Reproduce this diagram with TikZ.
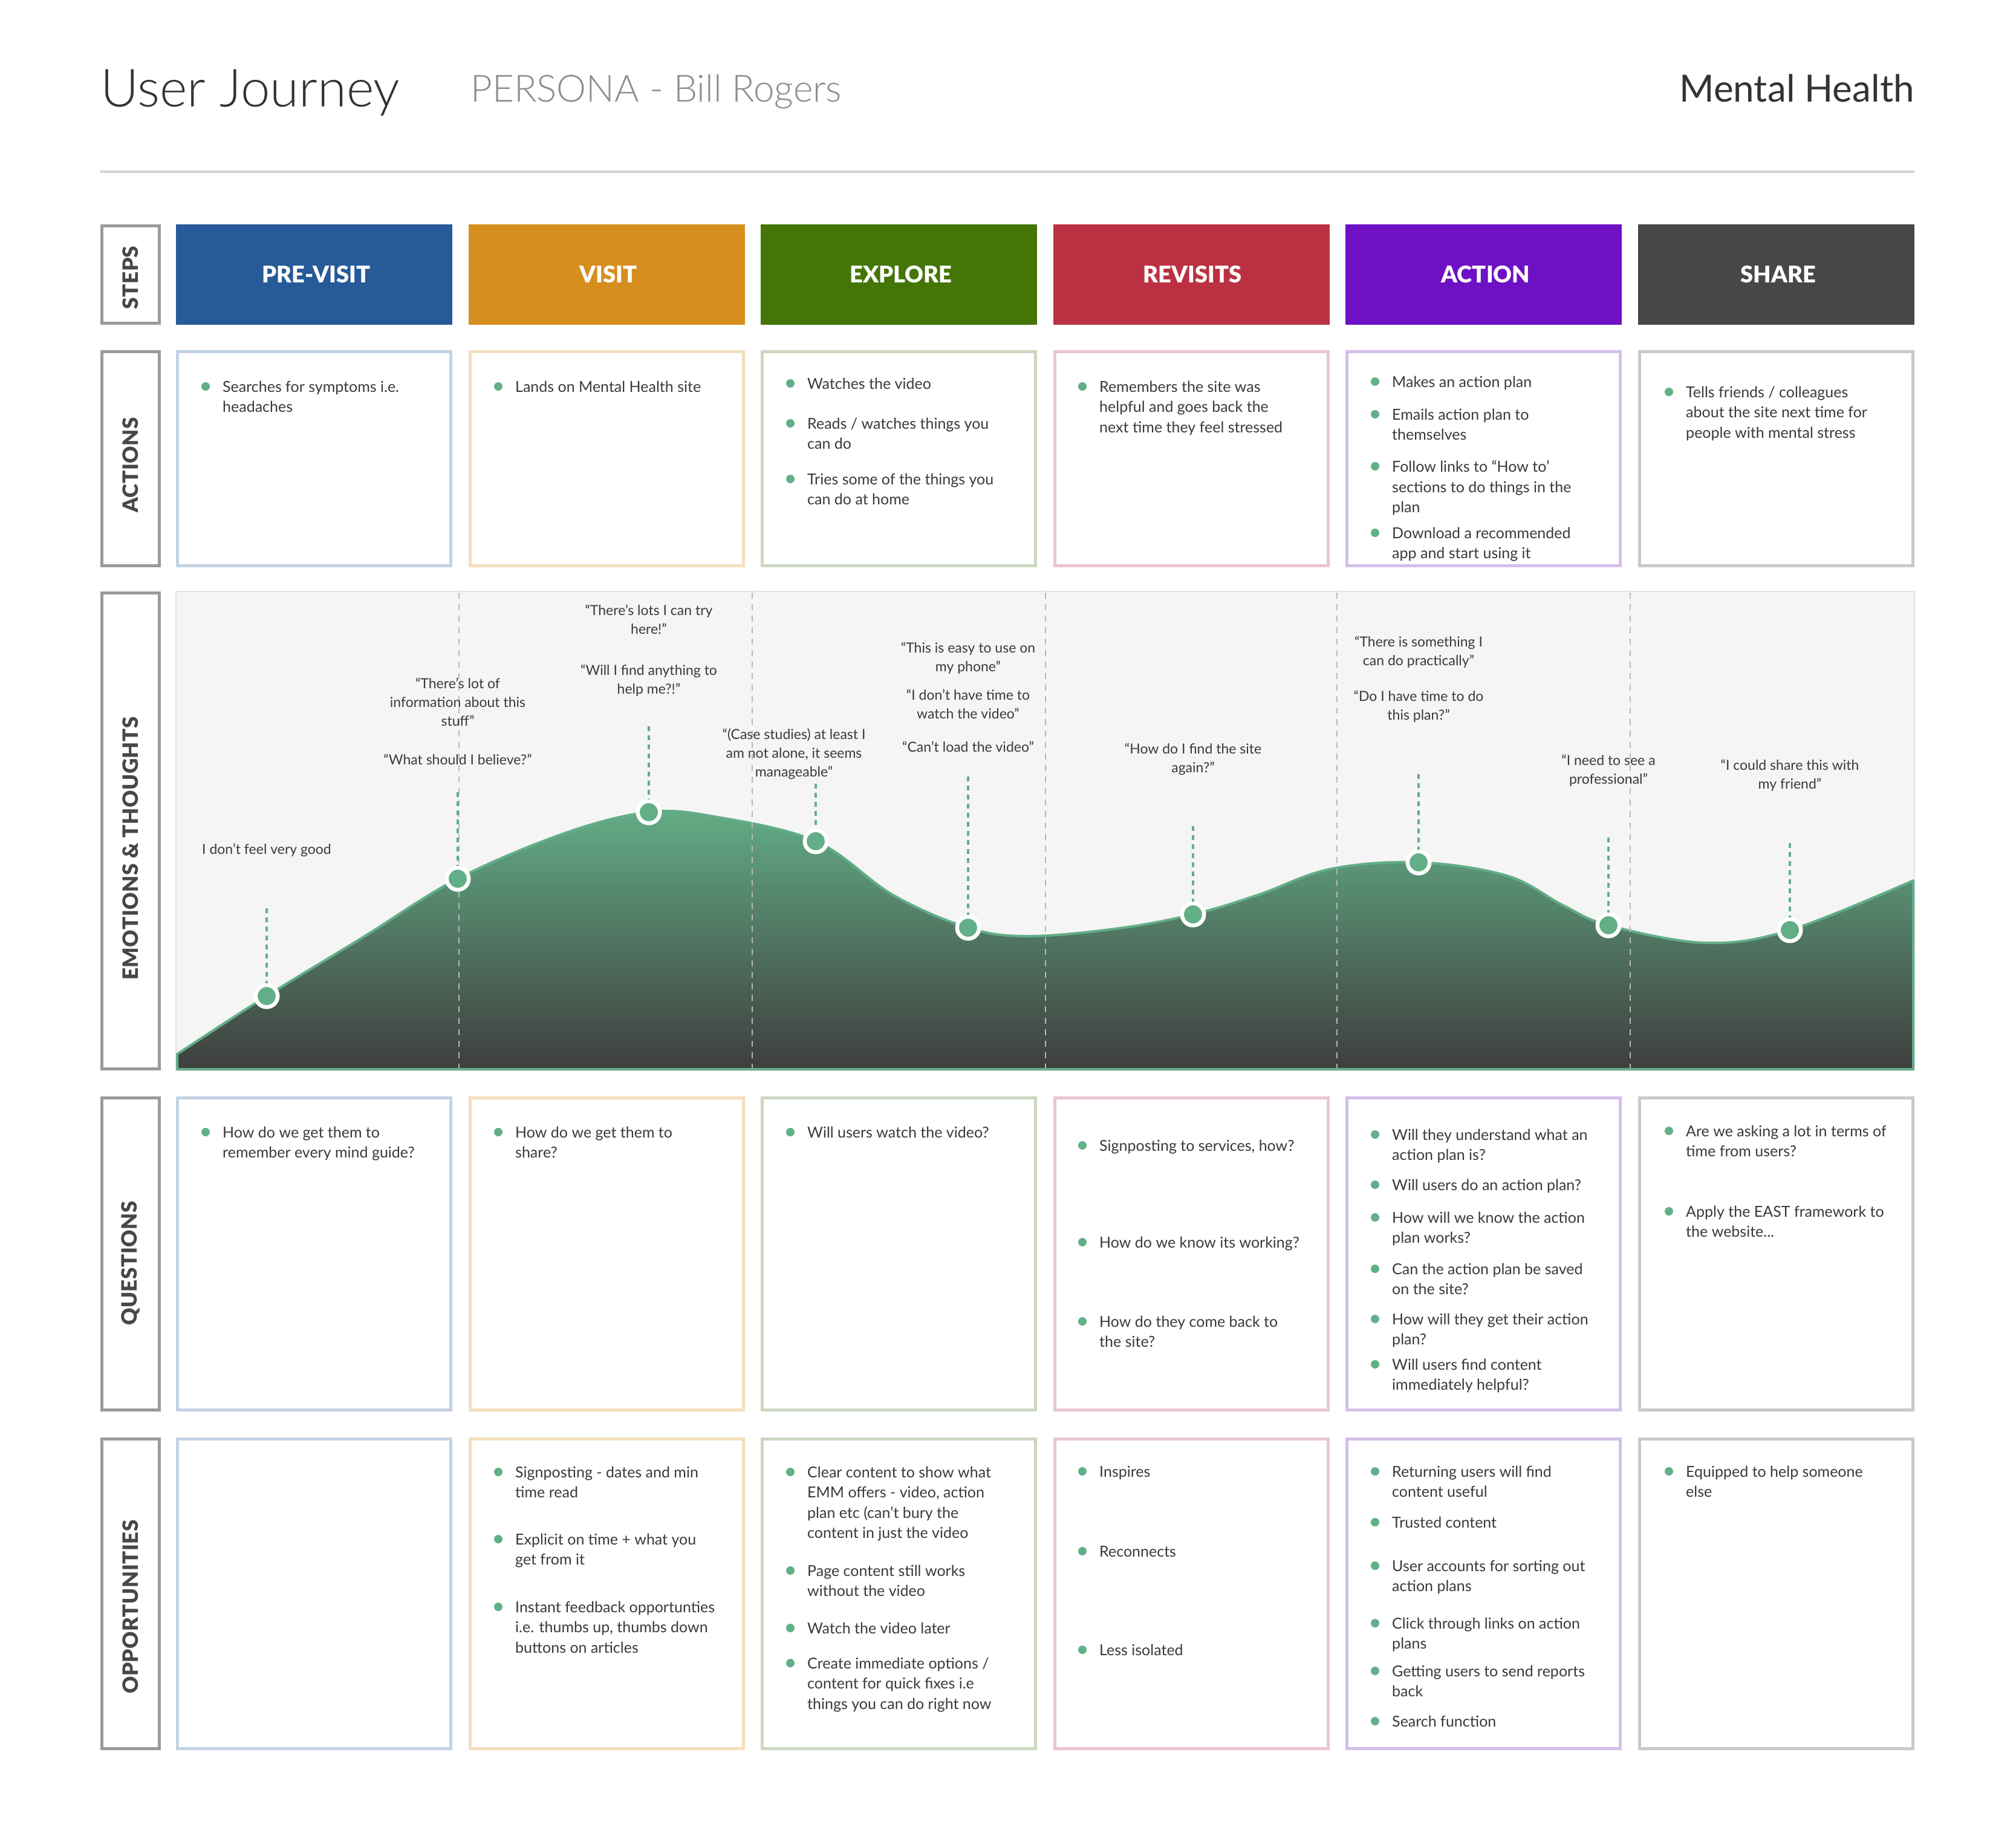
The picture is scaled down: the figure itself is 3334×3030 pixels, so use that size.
\documentclass[tikz,border=0pt]{standalone}
\usepackage{fontspec}
\setmainfont{Lato}
\newfontfamily\lightfont{Lato Light}
\newfontfamily\blackfont{Lato Black}
\newfontfamily\labfont{Lato Black}[LetterSpace=1.5]
\definecolor{ink}{HTML}{3A3A3A}
\definecolor{titlec}{HTML}{333333}
\definecolor{persc}{HTML}{8C8C8C}
\definecolor{rulec}{HTML}{D3D3D3}
\definecolor{labgray}{HTML}{9A9A9A}
\definecolor{labtext}{HTML}{474747}
\definecolor{stb}{HTML}{275A99}
\definecolor{sto}{HTML}{D68F1E}
\definecolor{stg}{HTML}{437507}
\definecolor{str}{HTML}{BB3142}
\definecolor{stv}{HTML}{6E10C3}
\definecolor{sts}{HTML}{474747}
\definecolor{cb}{HTML}{C3D2E4}
\definecolor{co}{HTML}{F2DFBD}
\definecolor{cg}{HTML}{CCD7C0}
\definecolor{cp}{HTML}{EAC5CC}
\definecolor{cv}{HTML}{D3BFEA}
\definecolor{cs}{HTML}{C9C9C9}
\definecolor{bullet}{HTML}{62B088}
\definecolor{jgreen}{HTML}{62AE87}
\definecolor{gtop}{HTML}{62AC85}
\definecolor{gbot}{HTML}{3E3E3E}
\definecolor{chartbg}{HTML}{F5F5F5}
\definecolor{chartbd}{HTML}{E3E3E3}
\definecolor{vgray}{HTML}{B8B8B8}
\newcommand\bitem[4]{%
  \node[bdot] (#1d) at ({#2-28},{#3-1}) {};
  \node[btxt] (#1) at (#2,{#3-10.5}) {\rule{0pt}{18.5pt}#4};}
\newcommand\ctext[4]{%
  \node[ctxt] (#1) at (#2,{#3-10}) {\rule{0pt}{17pt}#4};}
\begin{document}
\begin{tikzpicture}[x=1pt,y=-1pt,
  every node/.style={inner sep=0pt},
  labbox/.style={draw=labgray, line width=5pt, fill=white},
  card/.style={line width=5pt, fill=white},
  steptxt/.style={text=white, font=\blackfont\fontsize{38}{38}\selectfont},
  labtxt/.style={rotate=90, text=labtext, font=\labfont\fontsize{35}{35}\selectfont},
  btxt/.style={anchor=north west, align=left, text=ink, font=\fontsize{25}{33.5}\selectfont},
  bdot/.style={circle, fill=bullet, minimum size=14pt},
  ctxt/.style={anchor=north, align=center, text=ink, font=\fontsize{23}{31}\selectfont},
  jdot/.style={circle, fill=jgreen, draw=white, line width=6.5pt, minimum size=36.5pt},
  gdash/.style={draw=jgreen, line width=3.3pt, dash pattern=on 8pt off 7pt},
  vdash/.style={draw=vgray, line width=2pt, dash pattern=on 10pt off 9pt},
]
\useasboundingbox (0,0) rectangle (3334,3030);
\fill[white] (0,0) rectangle (3334,3030);

% header
\node[anchor=base west, text=titlec, font=\lightfont\fontsize{87}{87}\selectfont] (title) at (166,176) {User Journey};
\node[anchor=base west, text=persc, font=\lightfont\fontsize{62}{62}\selectfont] (persona) at (778,168) {PERSONA - Bill Rogers};
\node[anchor=base east, text=titlec, font=\fontsize{62}{62}\selectfont] (topic) at (3166,168) {Mental Health};
\draw[rulec, line width=4pt] (166,284) -- (3166,284);

% row label boxes
\foreach \T/\B in {371/537, 579/938, 978/1770, 1813/2334, 2377/2894}
  \draw[labbox] (168.5,\T+2.5) rectangle (263.5,\B-2.5);
\node[labtxt] (lsteps) at (216,459) {STEPS};
\node[labtxt] (lactions) at (216,769) {ACTIONS};
\node[labtxt] (lemo) at (216,1403) {EMOTIONS \& THOUGHTS};
\node[labtxt] (lquest) at (216,2089) {QUESTIONS};
\node[labtxt] (lopp) at (216,2657) {OPPORTUNITIES};

% steps
\fill[stb] (291,371) rectangle (748,537);
\fill[sto] (774.5,371) rectangle (1231.5,537);
\fill[stg] (1258,371) rectangle (1715,537);
\fill[str] (1741.5,371) rectangle (2198.5,537);
\fill[stv] (2225,371) rectangle (2682,537);
\fill[sts] (2708.5,371) rectangle (3165.5,537);
\node[steptxt] (s1) at (523,454) {PRE-VISIT};
\node[steptxt] (s2) at (1006,454) {VISIT};
\node[steptxt] (s3) at (1490,454) {EXPLORE};
\node[steptxt] (s4) at (1972,454) {REVISITS};
\node[steptxt] (s5) at (2457,454) {ACTION};
\node[steptxt] (s6) at (2941,454) {SHARE};

% cards
\foreach \T/\B in {579/938, 1813/2334, 2377/2894}{
  \foreach \L/\c in {291/cb, 774.5/co, 1258/cg, 1741.5/cp, 2225/cv, 2708.5/cs}
    \draw[card, draw=\c] (\L+2.5,\T+2.5) rectangle (\L+454.5,\B-2.5);
}

% actions
\bitem{a1}{368}{640}{Searches for symptoms i.e.\\headaches}
\bitem{a2}{852}{640}{Lands on Mental Health site}
\bitem{a3a}{1335}{635}{Watches the video}
\bitem{a3b}{1335}{701}{Reads / watches things you\\can do}
\bitem{a3c}{1335}{793}{Tries some of the things you\\can do at home}
\bitem{a4}{1818}{640}{Remembers the site was\\helpful and goes back the\\next time they feel stressed}
\bitem{a5a}{2302}{632}{Makes an action plan}
\bitem{a5b}{2302}{686}{Emails action plan to\\themselves}
\bitem{a5c}{2302}{772}{Follow links to “How to’\\sections to do things in the\\plan}
\bitem{a5d}{2302}{882}{Download a recommended\\app and start using it}
\bitem{a6}{2788}{649}{Tells friends / colleagues\\about the site next time for\\people with mental stress}

% questions
\bitem{q1}{368}{1873}{How do we get them to\\remember every mind guide?}
\bitem{q2}{852}{1873}{How do we get them to\\share?}
\bitem{q3}{1335}{1873}{Will users watch the video?}
\bitem{q4a}{1818}{1895}{Signposting to services, how?}
\bitem{q4b}{1818}{2055}{How do we know its working?}
\bitem{q4c}{1818}{2186}{How do they come back to\\the site?}
\bitem{q5a}{2302}{1877}{Will they understand what an\\action plan is?}
\bitem{q5b}{2302}{1960}{Will users do an action plan?}
\bitem{q5c}{2302}{2014}{How will we know the action\\plan works?}
\bitem{q5d}{2302}{2099}{Can the action plan be saved\\on the site?}
\bitem{q5e}{2302}{2182}{How will they get their action\\plan?}
\bitem{q5f}{2302}{2257}{Will users find content\\immediately helpful?}
\bitem{q6a}{2788}{1871}{Are we asking a lot in terms of\\time from users?}
\bitem{q6b}{2788}{2004}{Apply the EAST framework to\\the website...}

% opportunities
\bitem{o2a}{852}{2435}{Signposting - dates and min\\time read}
\bitem{o2b}{852}{2546}{Explicit on time + what you\\get from it}
\bitem{o2c}{852}{2658}{Instant feedback opportunties\\i.e. thumbs up, thumbs down\\buttons on articles}
\bitem{o3a}{1335}{2435}{Clear content to show what\\EMM offers - video, action\\plan etc (can’t bury the\\content in just the video}
\bitem{o3b}{1335}{2598}{Page content still works\\without the video}
\bitem{o3c}{1335}{2693}{Watch the video later}
\bitem{o3d}{1335}{2751}{Create immediate options /\\content for quick fixes i.e\\things you can do right now}
\bitem{o4a}{1818}{2434}{Inspires}
\bitem{o4b}{1818}{2566}{Reconnects}
\bitem{o4c}{1818}{2729}{Less isolated}
\bitem{o5a}{2302}{2434}{Returning users will find\\content useful}
\bitem{o5b}{2302}{2518}{Trusted content}
\bitem{o5c}{2302}{2590}{User accounts for sorting out\\action plans}
\bitem{o5d}{2302}{2685}{Click through links on action\\plans}
\bitem{o5e}{2302}{2764}{Getting users to send reports\\back}
\bitem{o5f}{2302}{2847}{Search function}
\bitem{o6}{2788}{2434}{Equipped to help someone\\else}

% emotions chart
\fill[chartbg] (291,978) rectangle (3166,1770);
\draw[chartbd, line width=2pt] (291,978) rectangle (3166,1770);
\path[top color=gtop, bottom color=gbot, draw=jgreen, line width=4pt, line join=round]
  (293,1768) -- plot[smooth, tension=0.6] coordinates {(293,1743) (441,1647) (600,1550) (757,1453) (936,1377) (1073,1343) (1180,1350) (1349,1391) (1477,1480) (1601,1534) (1700,1548) (1850,1535) (1973,1512) (2080,1480) (2200,1437) (2346,1426) (2492,1448) (2585,1497) (2660,1530) (2820,1559) (2960,1538) (3164,1456)} -- (3164,1768) -- cycle;
\foreach \x in {759,1244,1729,2211,2696}
  \draw[vdash] (\x,980) -- (\x,1766);

% texts
\ctext{e1}{441}{1405}{I don’t feel very good}
\ctext{e2a}{757}{1131}{“There’s lot of\\information about this\\stuff”}
\ctext{e2b}{757}{1257}{“What should I believe?”}
\ctext{e3a}{1073}{1010}{“There’s lots I can try\\here!”}
\ctext{e3b}{1073}{1109}{“Will I find anything to\\help me?!”}
\ctext{e4}{1313}{1214}{“(Case studies) at least I\\am not alone, it seems\\manageable”}
\ctext{e5a}{1601}{1072}{“This is easy to use on\\my phone”}
\ctext{e5b}{1601}{1150}{“I don’t have time to\\watch the video”}
\ctext{e5c}{1601}{1236}{“Can’t load the video”}
\ctext{e6}{1973}{1239}{“How do I find the site\\again?”}
\ctext{e7a}{2346}{1062}{“There is something I\\can do practically”}
\ctext{e7b}{2346}{1152}{“Do I have time to do\\this plan?”}
\ctext{e8}{2660}{1258}{“I need to see a\\professional”}
\ctext{e9}{2960}{1266}{“I could share this with\\my friend”}

% dots and dashed stems
\foreach \n/\x/\y/\t in {1/441/1647/1502, 2/757/1453/1310, 3/1073/1343/1201, 4/1349/1391/1296, 5/1601/1534/1284, 6/1973/1512/1366, 7/2346/1426/1280, 8/2660/1530/1385, 9/2960/1538/1394}{
  \node[jdot] (d\n) at (\x,\y) {};
  \coordinate (t\n) at (\x,\t);
  \draw[gdash] (t\n) -- (d\n);
}
\end{tikzpicture}
\end{document}
